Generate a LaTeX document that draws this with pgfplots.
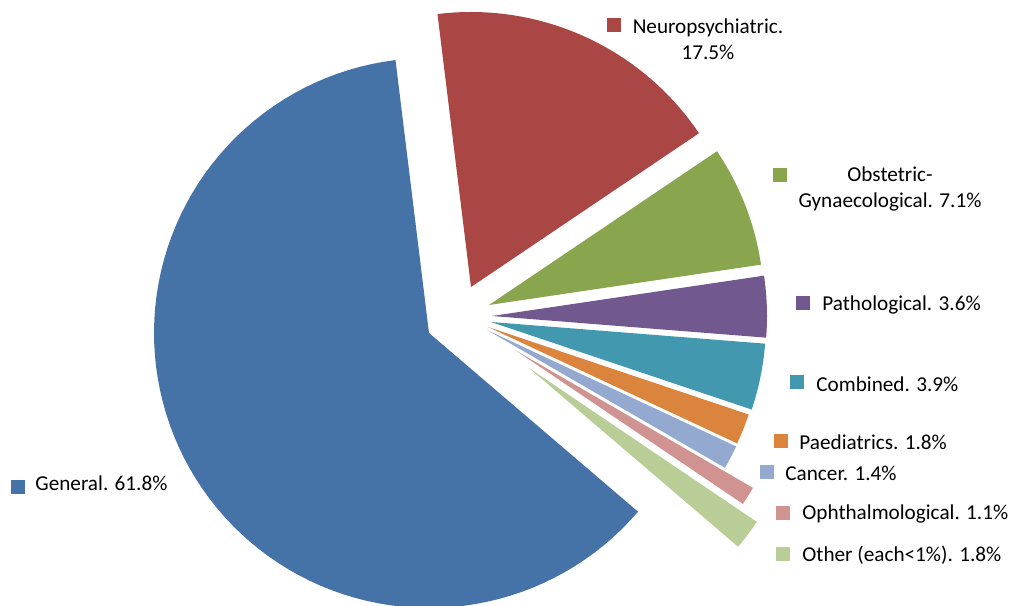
\documentclass[border=0pt]{standalone}
\usepackage{pgfplots}
\pgfplotsset{compat=1.18}
\usepackage{fontspec}
\setmainfont{Carlito}
\definecolor{cGen}{HTML}{4572A7}
\definecolor{cNeu}{HTML}{AA4643}
\definecolor{cObs}{HTML}{89A54E}
\definecolor{cPat}{HTML}{71588F}
\definecolor{cCom}{HTML}{4198AF}
\definecolor{cPae}{HTML}{DB843D}
\definecolor{cCan}{HTML}{93A9CF}
\definecolor{cOph}{HTML}{D19392}
\definecolor{cOth}{HTML}{B9CD96}
% shares (percent)
\def\pGen{61.8}\def\pNeu{17.5}\def\pObs{7.1}\def\pPat{3.6}\def\pCom{3.9}
\def\pPae{1.8}\def\pCan{1.4}\def\pOph{1.1}\def\pOth{1.8}
% cumulative angles, clockwise from 97 deg
\pgfmathsetmacro\aZ{97}
\pgfmathsetmacro\aGen{\aZ+3.6*\pGen}
\pgfmathsetmacro\aA{\aZ-3.6*\pNeu}
\pgfmathsetmacro\aB{\aA-3.6*\pObs}
\pgfmathsetmacro\aC{\aB-3.6*\pPat}
\pgfmathsetmacro\aD{\aC-3.6*\pCom}
\pgfmathsetmacro\aE{\aD-3.6*\pPae}
\pgfmathsetmacro\aF{\aE-3.6*\pCan}
\pgfmathsetmacro\aG{\aF-3.6*\pOph}
\pgfmathsetmacro\aH{\aG-3.6*\pOth}
% slice: color, apex x, apex y (y up), from angle, to angle
\newcommand{\slice}[5]{%
  \addplot[fill=#1, draw=none, domain=#4:#5, samples=90, variable=\t]
    ({#2+275*cos(\t)},{#3+275*sin(\t)}) -- (axis cs:#2,#3) -- cycle;
}
\newcommand{\key}[3]{%
  \addplot[only marks, mark=square*, mark size=3.2pt, color=#1] coordinates {(#2,#3)};
}
\begin{document}
\begin{tikzpicture}[lab/.style={anchor=west, inner sep=0pt},
  txt/.style={font=\fontsize{10.6}{13}\selectfont}]
\begin{axis}[
  scale only axis, width=505.5pt, height=302.5pt,
  xmin=0, xmax=1011, ymin=0, ymax=605,
  axis lines=box, axis line style={draw=none},
  xtick=\empty, ytick=\empty,
  clip=true,
]
\slice{cGen}{429}{272}{\aZ}{\aGen}
\slice{cNeu}{471}{318}{\aA}{\aZ}
\slice{cObs}{489}{300}{\aB}{\aA}
\slice{cPat}{492}{289}{\aC}{\aB}
\slice{cCom}{491}{283}{\aD}{\aC}
\slice{cPae}{488}{278}{\aE}{\aD}
\slice{cCan}{487}{275}{\aF}{\aE}
\slice{cOph}{515}{255}{\aG}{\aF}
\slice{cOth}{529}{237}{\aH}{\aG}

\key{cNeu}{614}{580}
\key{cObs}{780}{430}
\key{cPat}{803}{302}
\key{cCom}{797}{223}
\key{cPae}{781}{164}
\key{cCan}{767}{133}
\key{cOph}{783}{92}
\key{cOth}{783}{51}
\key{cGen}{18}{118}

\node[txt, align=center] at (axis cs:708,566) {Neuropsychiatric.\\17.5\%};
\node[txt, align=center] at (axis cs:890,416) {Obstetric-\\Gynaecological. 7.1\%};
\node[txt, lab] at (axis cs:822,300) {Pathological. 3.6\%};
\node[txt, lab] at (axis cs:816,221) {Combined. 3.9\%};
\node[txt, lab] at (axis cs:799,163) {Paediatrics. 1.8\%};
\node[txt, lab] at (axis cs:785,132) {Cancer. 1.4\%};
\node[txt, lab] at (axis cs:802,91) {Ophthalmological. 1.1\%};
\node[txt, lab] at (axis cs:802,50) {Other (each<1\%). 1.8\%};
\node[txt, lab] at (axis cs:35,122) {General. 61.8\%};
\end{axis}
\end{tikzpicture}
\end{document}
